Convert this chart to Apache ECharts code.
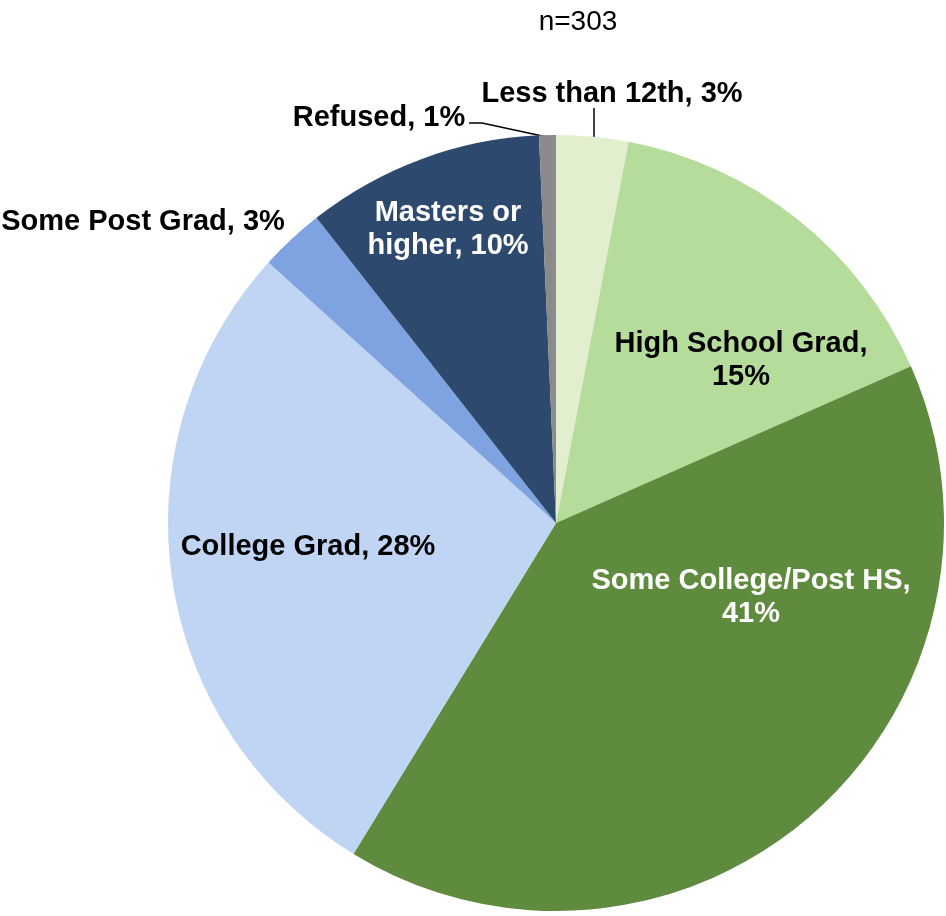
<!DOCTYPE html>
<html>
<head>
<meta charset="utf-8">
<script src="https://cdn.jsdelivr.net/npm/echarts@6/dist/echarts.min.js"></script>
<style>
html,body{margin:0;padding:0;background:#fff;}
#main{width:946px;height:916px;}
</style>
</head>
<body>
<div id="main"></div>
<script>
// Data
var categories = ['Less than 12th', 'High School Grad', 'Some College/Post HS', 'College Grad', 'Some Post Grad', 'Masters or higher', 'Refused'];
var values = [3.0, 15.4, 40.4, 28.0, 2.7, 9.9, 0.7];
var labelTexts = ['Less than 12th, 3%', 'High School Grad,\n15%', 'Some College/Post HS,\n41%', 'College Grad, 28%', 'Some Post Grad, 3%', 'Masters or\nhigher, 10%', 'Refused, 1%'];
var titleText = 'n=303';

// Styling
var colors = ['#e2efcf', '#b5dc9a', '#5f8b3e', '#c0d5f4', '#7ea3e0', '#2d4a6e', '#8a8a8a'];
var labelColors = ['#000', '#000', '#fff', '#000', '#000', '#fff', '#000'];
var insideLabel = [false, true, true, true, false, true, false];
var showLine = [true, false, false, false, false, false, true];
var labelPos = [[612, 94], [741, 360], [751, 597], [308, 547], [143, 222], [448, 229], [379, 118]];
var linePts = {
  0: [[594, 108], [594, 120], [594, 137]],
  6: [[469, 123], [482, 123], [547, 137]]
};

var chart = echarts.init(document.getElementById('main'));
var data = categories.map(function (c, i) {
  return {
    name: c,
    value: values[i],
    itemStyle: { color: colors[i] },
    label: {
      show: true,
      position: insideLabel[i] ? 'inside' : 'outside',
      color: labelColors[i],
      formatter: labelTexts[i]
    },
    labelLine: { show: showLine[i] }
  };
});

chart.setOption({
  animation: false,
  title: {
    text: titleText,
    left: 573,
    top: 3,
    textAlign: 'center',
    textStyle: { fontFamily: 'Liberation Sans, Arial, sans-serif', fontWeight: 'normal', fontSize: 28, color: '#000' }
  },
  series: [{
    type: 'pie',
    center: [556, 523],
    radius: 388,
    startAngle: 90,
    clockwise: true,
    avoidLabelOverlap: false,
    data: data,
    label: {
      fontFamily: 'Liberation Sans, Arial, sans-serif',
      fontWeight: 'bold',
      fontSize: 29,
      lineHeight: 33,
      align: 'center'
    },
    labelLine: {
      lineStyle: { color: '#000', width: 1.5 },
      length: 10,
      length2: 10
    },
    labelLayout: function (params) {
      var i = params.dataIndex;
      var res = { x: labelPos[i][0], y: labelPos[i][1], align: 'center', verticalAlign: 'middle' };
      if (linePts[i]) res.labelLinePoints = linePts[i];
      return res;
    },
    emphasis: { disabled: true }
  }]
});
</script>
</body>
</html>
